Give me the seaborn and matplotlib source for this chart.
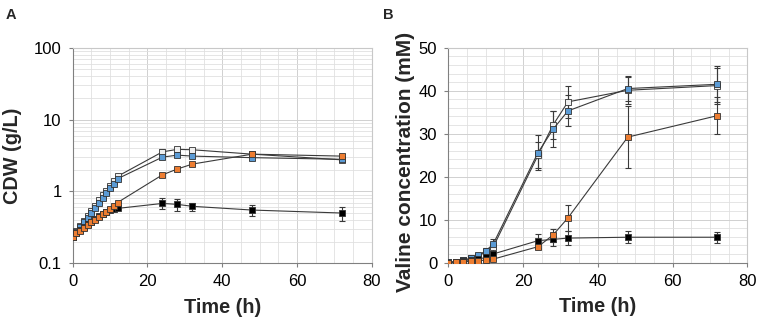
import numpy as np
import pandas as pd
import matplotlib
matplotlib.use("Agg")
import matplotlib.pyplot as plt
import seaborn as sns
from matplotlib.ticker import MultipleLocator, LogLocator, FuncFormatter, NullFormatter

# ---- Data: panel A (CDW, g/L) ----
time_a = [0, 1, 2, 3, 4, 5, 6, 7, 8, 9, 10, 11, 12, 24, 28, 32, 48, 72]
cdw_white = [0.23, 0.28, 0.33, 0.39, 0.46, 0.53, 0.63, 0.75, 0.88, 1.02, 1.2, 1.4, 1.62, 3.55, 3.85, 3.8, 3.3, 2.75]
cdw_blue = [0.23, 0.27, 0.32, 0.37, 0.43, 0.5, 0.58, 0.68, 0.8, 0.94, 1.1, 1.28, 1.5, 3.0, 3.2, 3.1, 2.95, 2.8]
cdw_orange = [0.23, 0.26, 0.28, 0.31, 0.34, 0.37, 0.4, 0.44, 0.48, 0.52, 0.57, 0.62, 0.7, 1.7, 2.05, 2.4, 3.3, 3.1]
cdw_black = [0.23, 0.26, 0.29, 0.32, 0.35, 0.38, 0.41, 0.45, 0.49, 0.52, 0.55, 0.57, 0.58, 0.68, 0.66, 0.62, 0.55, 0.5]
cdw_white_err = [0.01] * 13 + [0.3, 0.3, 0.25, 0.2, 0.2]
cdw_blue_err = [0.01] * 13 + [0.2, 0.2, 0.2, 0.2, 0.2]
cdw_orange_err = [0.01] * 13 + [0.1, 0.1, 0.1, 0.25, 0.2]
cdw_black_err = [0.01] * 13 + [0.12, 0.12, 0.08, 0.09, 0.11]

# ---- Data: panel B (Valine, mM) ----
time_b = [0, 2, 4, 6, 8, 10, 12, 24, 28, 32, 48, 72]
val_white = [0.1, 0.2, 0.5, 1.0, 1.6, 2.4, 3.6, 25.0, 32.0, 37.4, 40.1, 41.2]
val_blue = [0.1, 0.2, 0.5, 1.0, 1.7, 2.7, 4.3, 25.6, 31.0, 35.3, 40.5, 41.5]
val_orange = [0.0, 0.1, 0.2, 0.3, 0.4, 0.6, 0.8, 3.7, 6.4, 10.4, 29.2, 34.2]
val_black = [0.0, 0.1, 0.3, 0.5, 0.8, 1.2, 2.0, 5.1, 5.4, 5.7, 5.9, 5.9]
val_white_err = [0.1, 0.1, 0.2, 0.3, 0.4, 0.6, 1.0, 3.0, 3.2, 3.7, 3.2, 4.2]
val_blue_err = [0.1, 0.1, 0.2, 0.3, 0.4, 0.6, 1.2, 4.1, 4.2, 3.6, 3.0, 4.2]
val_orange_err = [0.0, 0.1, 0.1, 0.1, 0.2, 0.2, 0.3, 0.6, 1.5, 3.0, 7.2, 4.3]
val_black_err = [0.0, 0.1, 0.1, 0.2, 0.3, 0.4, 0.6, 1.6, 1.5, 1.7, 1.4, 1.3]

series_names = ["white", "blue", "black", "orange"]
face_colors = {"white": "#efefef", "blue": "#5b9bd5", "orange": "#ed7d31", "black": "#000000"}

sns.set_theme(style="whitegrid")
plt.rcParams["font.family"] = ["Liberation Sans", "DejaVu Sans"]

fig = plt.figure(figsize=(7.65, 3.27), dpi=100)
axA = fig.add_axes([0.095, 0.195, 0.391, 0.659])
axB = fig.add_axes([0.586, 0.197, 0.391, 0.657])

dataA = {"white": (cdw_white, cdw_white_err), "blue": (cdw_blue, cdw_blue_err),
         "orange": (cdw_orange, cdw_orange_err), "black": (cdw_black, cdw_black_err)}
dataB = {"white": (val_white, val_white_err), "blue": (val_blue, val_blue_err),
         "orange": (val_orange, val_orange_err), "black": (val_black, val_black_err)}


def draw(ax, t, data):
    for name in series_names:
        y, e = data[name]
        df = pd.DataFrame({"t": t, "y": y})
        ax.errorbar(t, y, yerr=e, fmt="none", ecolor="#3a3a3a", elinewidth=0.8,
                    capsize=2.5, capthick=0.8, zorder=2)
        sns.lineplot(data=df, x="t", y="y", ax=ax, color="#3a3a3a", linewidth=0.8,
                     marker="s", markersize=5, markerfacecolor=face_colors[name],
                     markeredgecolor="#333333", markeredgewidth=0.6, zorder=3,
                     estimator=None, sort=False)


for ax in (axA, axB):
    ax.set_facecolor("white")
    for side, s in ax.spines.items():
        s.set_linewidth(0.8)
        s.set_color("#808080" if side in ("left", "bottom") else "#c8c8c8")
    ax.grid(True, which="major", color="#d0d0d0", linewidth=0.7)
    ax.grid(True, which="minor", color="#e0e0e0", linewidth=0.6)
    ax.set_axisbelow(True)
    ax.tick_params(axis="both", which="major", labelsize=12, length=3, width=0.8,
                   color="#808080", direction="out", left=True, bottom=True,
                   labelcolor="black", pad=5)
    ax.tick_params(axis="both", which="minor", length=0)
    ax.set_xlim(0, 80)
    ax.xaxis.set_major_locator(MultipleLocator(20))
    ax.xaxis.set_minor_locator(MultipleLocator(5))

draw(axA, time_a, dataA)
axA.set_yscale("log")
axA.set_ylim(0.1, 100)
axA.yaxis.set_major_locator(LogLocator(base=10))
axA.yaxis.set_minor_locator(LogLocator(base=10, subs=np.arange(2, 10)))
axA.yaxis.set_major_formatter(FuncFormatter(lambda v, p: f"{v:g}"))
axA.yaxis.set_minor_formatter(NullFormatter())
axA.set_xlabel("Time (h)", fontsize=14.3, fontweight="bold")
axA.set_ylabel("CDW (g/L)", fontsize=14.3, fontweight="bold")

draw(axB, time_b, dataB)
axB.set_ylim(0, 50)
axB.yaxis.set_major_locator(MultipleLocator(10))
axB.yaxis.set_minor_locator(MultipleLocator(2))
axB.set_xlabel("Time (h)", fontsize=14.3, fontweight="bold")
axB.set_ylabel("Valine concentration (mM)", fontsize=15, fontweight="bold")

for ax, ylx, yly in ((axA, -0.20, 0.50), (axB, -0.143, 0.47)):
    ax.xaxis.label.set_va("center")
    ax.xaxis.set_label_coords(0.5, -0.205)
    ax.yaxis.label.set_va("center")
    ax.yaxis.label.set_ha("center")
    ax.yaxis.set_label_coords(ylx, yly)

fig.text(0.007, 0.975, "A", fontsize=10.5, fontweight="bold", va="top")
fig.text(0.500, 0.975, "B", fontsize=10.5, fontweight="bold", va="top")

fig.savefig("out.png", dpi=100)
